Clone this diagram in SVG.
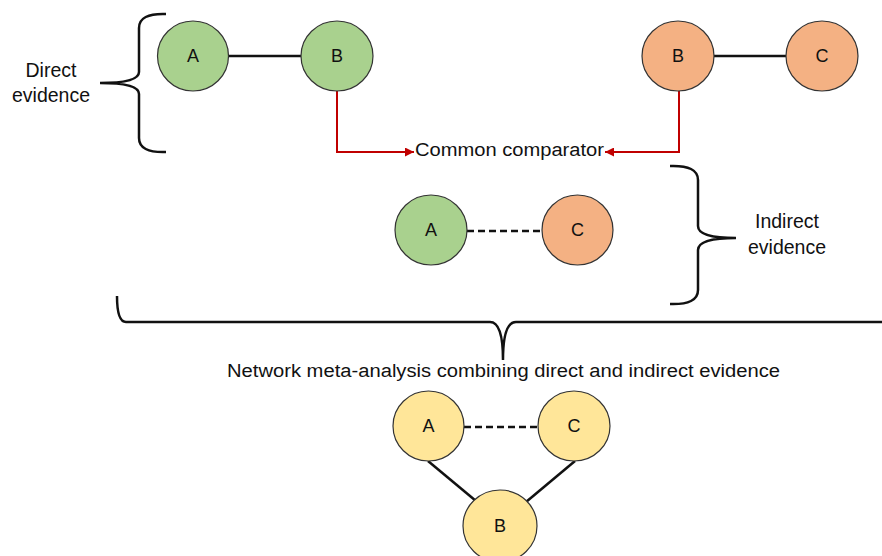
<svg xmlns="http://www.w3.org/2000/svg" width="882" height="556" viewBox="0 0 882 556">
<defs>
<style>
.n{stroke:#333;stroke-width:1.2}
.g{fill:#A9D18E}.o{fill:#F4B183}.y{fill:#FFE699}
.t{font-family:"Liberation Sans",Arial,sans-serif;font-size:18px;fill:#111}
.l{font-size:19.5px}
.c{text-anchor:middle}
.e{stroke:#111;stroke-width:2.5;fill:none}
.d{stroke-dasharray:7 4}
.r{stroke:#C00000;stroke-width:2;fill:none}
.b{stroke:#111;stroke-width:2.5;fill:none}
</style>
<marker id="ah" viewBox="0 0 10 10" refX="10" refY="5" markerWidth="4.5" markerHeight="4.5" orient="auto" markerUnits="strokeWidth">
<path d="M0,0 L10,5 L0,10 z" fill="#C00000"/>
</marker>
</defs>
<rect width="882" height="556" fill="#fff"/>
<g id="connectors">
<line class="e" x1="228" y1="56" x2="301" y2="56"/>
<line class="e" x1="714" y1="56" x2="786" y2="56"/>
<line class="e d" x1="467" y1="231" x2="542" y2="231"/>
<line class="e d" x1="464" y1="427" x2="538" y2="427"/>
<line class="e" x1="428" y1="461" x2="476" y2="501"/>
<line class="e" x1="575" y1="461" x2="526" y2="502"/>
<path class="r" d="M337,91 V152 H414" marker-end="url(#ah)"/>
<path class="r" d="M679,91 V152 H605" marker-end="url(#ah)"/>
</g>
<g id="brace-direct"><path class="b" d="M166,14 Q139,13 139,28 V72 Q139,83 100,83 Q139,83 139,94 V138 Q139,153 166,152"/></g>
<g id="brace-indirect"><path class="b" d="M670,166 Q698,165 698,180 V226 Q698,238 736,238 Q698,238 698,250 V290 Q698,305 670,304"/></g>
<g id="brace-nma"><path class="b" d="M117,296 Q117,322 126,322 H490 Q503,322 503,360 Q503,322 516,322 H882"/></g>
<g id="label-direct"><text class="t l c" x="51" y="77">Direct</text><text class="t l c" x="51" y="102">evidence</text></g>
<g id="label-indirect"><text class="t l c" x="787" y="228">Indirect</text><text class="t l c" x="787" y="254">evidence</text></g>
<g id="label-common"><text class="t" x="415" y="156" textLength="189" lengthAdjust="spacingAndGlyphs">Common comparator</text></g>
<g id="label-nma"><text class="t" x="227" y="377" textLength="553" lengthAdjust="spacingAndGlyphs">Network meta-analysis combining direct and indirect evidence</text></g>
<g id="d-A"><ellipse class="n g" cx="193" cy="56" rx="35.5" ry="35"/><text class="t c" x="193" y="62">A</text></g>
<g id="d-B"><ellipse class="n g" cx="337" cy="56" rx="36" ry="35"/><text class="t c" x="337" y="62">B</text></g>
<g id="d2-B"><ellipse class="n o" cx="678" cy="56" rx="36" ry="35"/><text class="t c" x="678" y="62">B</text></g>
<g id="d2-C"><ellipse class="n o" cx="822" cy="56" rx="36" ry="35"/><text class="t c" x="822" y="62">C</text></g>
<g id="i-A"><ellipse class="n g" cx="431" cy="230" rx="36" ry="35"/><text class="t c" x="431" y="236">A</text></g>
<g id="i-C"><ellipse class="n o" cx="577.5" cy="230" rx="35.5" ry="35"/><text class="t c" x="577.5" y="236">C</text></g>
<g id="m-A"><ellipse class="n y" cx="428.5" cy="426" rx="35.5" ry="35"/><text class="t c" x="428.5" y="432">A</text></g>
<g id="m-C"><ellipse class="n y" cx="574" cy="426" rx="36" ry="35"/><text class="t c" x="574" y="432">C</text></g>
<g id="m-B"><ellipse class="n y" cx="500" cy="526" rx="37" ry="36"/><text class="t c" x="500" y="532">B</text></g>
</svg>
